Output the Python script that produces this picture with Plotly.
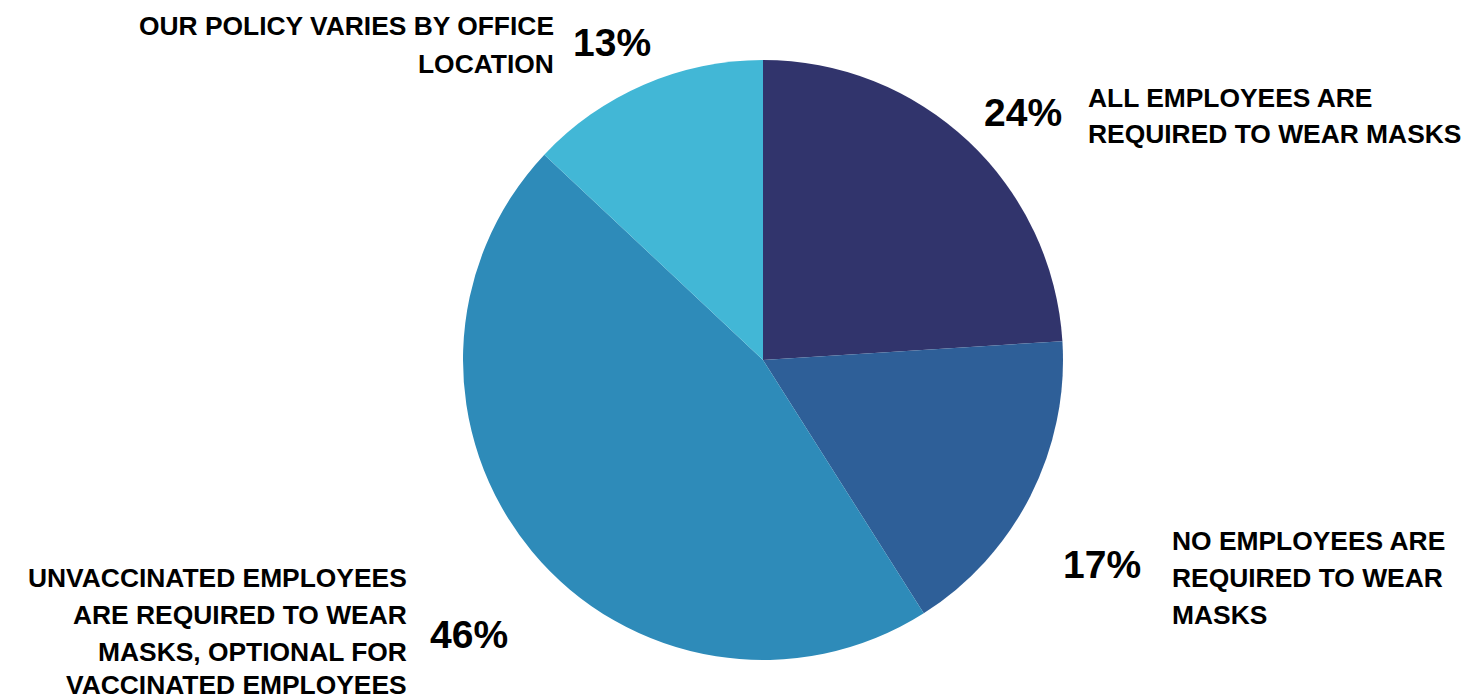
import plotly.graph_objects as go

W, H = 1468, 700

labels = [
    "ALL EMPLOYEES ARE<br>REQUIRED TO WEAR MASKS",
    "NO EMPLOYEES ARE<br>REQUIRED TO WEAR<br>MASKS",
    "UNVACCINATED EMPLOYEES<br>ARE REQUIRED TO WEAR<br>MASKS, OPTIONAL FOR<br>VACCINATED EMPLOYEES",
    "OUR POLICY VARIES BY OFFICE<br>LOCATION",
]
values = [24, 17, 46, 13]
colors = ["#31346C", "#2E5F98", "#2E8BB9", "#42B7D6"]

# layout of the outside labels (pixel positions, top-left origin)
label_anchor_x = [1086, 1170, 409, 556]
label_align = ["left", "left", "right", "right"]
label_line_y = [[97, 133], [540, 577, 614], [577, 614, 651, 684], [25, 63]]
pct_pos = [(1023, 110), (1102, 562), (469, 632), (612, 40)]

fig = go.Figure(go.Pie(
    labels=[l.replace("<br>", " ") for l in labels],
    values=values,
    marker=dict(colors=colors, line=dict(width=0)),
    sort=False,
    direction="clockwise",
    rotation=0,
    textinfo="none",
    hoverinfo="label+percent",
    domain=dict(x=[463 / W, 1063 / W], y=[1 - 660 / H, 1 - 60 / H]),
    showlegend=False,
))

label_font = dict(family="Liberation Sans, Arial, sans-serif", size=26.4, color="#000000")
pct_font = dict(family="Liberation Sans, Arial, sans-serif", size=39, color="#000000")

ann = []
for lab, ax, al, ys in zip(labels, label_anchor_x, label_align, label_line_y):
    for line, y in zip(lab.split("<br>"), ys):
        ann.append(dict(
            text=f"<b>{line}</b>", x=ax / W, y=1 - (y + 1) / H,
            xref="paper", yref="paper", xanchor=al, yanchor="middle",
            showarrow=False, font=label_font, align=al,
        ))
for v, (px, py) in zip(values, pct_pos):
    ann.append(dict(
        text=f"<b>{v}%</b>", x=px / W, y=1 - (py + 2) / H,
        xref="paper", yref="paper", xanchor="center", yanchor="middle",
        showarrow=False, font=pct_font,
    ))

fig.update_layout(
    width=W, height=H,
    margin=dict(l=0, r=0, t=0, b=0),
    paper_bgcolor="#FFFFFF",
    plot_bgcolor="#FFFFFF",
    annotations=ann,
)

fig.write_html("out.html")
